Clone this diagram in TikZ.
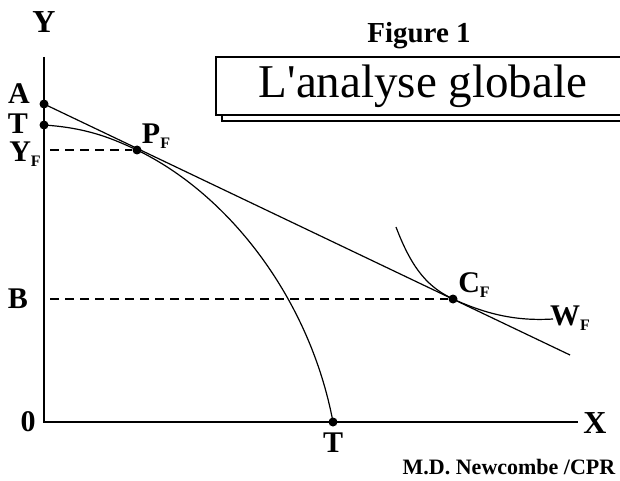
\documentclass[tikz,border=0pt]{standalone}
\usepackage{fontspec}
\setmainfont{Liberation Serif}
\newfontfamily\droit[Ligatures=TeXOff]{Liberation Serif}
\usetikzlibrary{positioning, calc}

\newcommand{\indice}[1]{\raisebox{-0.35ex}{\fontsize{16}{16}\selectfont #1}}

\begin{document}
\begin{tikzpicture}[x=1pt, y=-1pt, line width=1.2pt,
  etiquette/.style={font=\fontsize{30}{30}\selectfont\bfseries, inner sep=0pt},
  point/.style={circle, fill=black, inner sep=0pt, minimum size=9pt},
  pointille/.style={dash pattern=on 9pt off 6pt}]
\useasboundingbox (0,0) rectangle (620,481);

% --- POINTS DU GRAPHIQUE ---
\coordinate (O) at (44,422);
\coordinate (Yh) at (44,57);
\coordinate (Xd) at (578,422);
\node[point] (A) at (44,104) {};
\node[point] (Ty) at (44,125) {};
\node[point] (PF) at (137,150) {};
\node[point] (CF) at (453,299) {};
\node[point] (Tx) at (333,422) {};
\coordinate (YF) at (50,150);
\coordinate (B) at (50,299);
\coordinate (Fin) at (570,355);
\coordinate (Wdeb) at (396,227);
\coordinate (Wfin) at (553,319);

% LAYER 1: Axes
\draw (Yh) -- (O) -- (Xd);
\node[etiquette, font=\fontsize{32}{32}\selectfont\bfseries] (labY) at (44,22) {Y};
\node[etiquette, font=\fontsize{32}{32}\selectfont\bfseries] (labX) at (595,423) {X};
\node[etiquette] (lab0) at (28,422) {0};

% LAYER 2: Pointilles
\draw[pointille] (YF) -- (PF);
\draw[pointille] (B) -- (CF);

% LAYER 3: Frontiere T-T et droite des prix
\draw (Ty.center) .. controls (90,128) and (115,140) .. (PF.center)
  .. controls (230,195) and (310,300) .. (Tx.center);
\draw (A.center) -- (Fin);

% LAYER 4: Courbe d'indifference
\draw (Wdeb) .. controls (413,272) and (430,288) .. (CF.center)
  .. controls (490,316) and (520,321) .. (Wfin);

% LAYER 5: Etiquettes
\node[etiquette] (labA) at (19,94) {A};
\node[etiquette] (labT) at (18,124) {T};
\node[etiquette] (labYF) at (25,154) {Y\indice{F}};
\node[etiquette] (labB) at (18,299) {B};
\node[etiquette] (labTx) at (333,443) {T};
\node[etiquette] (labPF) at (156,136) {P\indice{F}};
\node[etiquette] (labCF) at (474,285) {C\indice{F}};
\node[etiquette] (labWF) at (570,318) {W\indice{F}};

% LAYER 6: Titre et cadre
\node[inner sep=0pt, anchor=base, font=\fontsize{29}{30}\selectfont\bfseries] (fig) at (419,43) {Figure 1};
\draw (216,57) rectangle (640,115);
\draw (222,115) -- (222,121) -- (640,121);
\node[inner sep=0pt, font=\fontsize{47}{50}\selectfont\droit] (titre) at (423,86) {L'analyse globale};

% LAYER 7: Signature
\node[inner sep=0pt, font=\fontsize{22}{22}\selectfont\bfseries] (sign) at (509,467) {M.D.~Newcombe /CPR};
\end{tikzpicture}
\end{document}
